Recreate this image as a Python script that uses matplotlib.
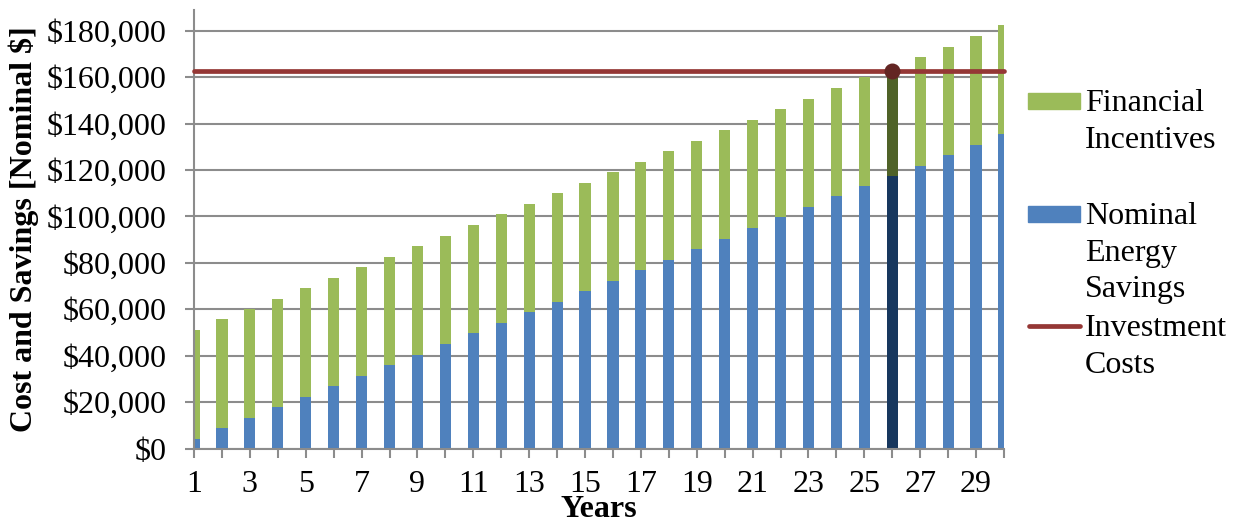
import matplotlib
matplotlib.use("Agg")
import matplotlib.pyplot as plt
from matplotlib.patches import Rectangle
from matplotlib.lines import Line2D
from matplotlib.ticker import FuncFormatter, FixedLocator

plt.rcParams['font.family'] = ['Liberation Serif', 'DejaVu Serif']

# data
years = list(range(1, 31))
energy_savings = [4300, 8990, 13300, 17800, 22300, 26900, 31400, 35900, 40400, 45000,
                  49600, 54200, 58700, 63150, 67700, 72300, 76900, 81400, 85900, 90400,
                  94950, 99600, 104000, 108700, 113200, 117300, 121900, 126400, 131000, 135600]
incentives = [46800, 46700, 46800, 46800, 46800, 46800, 46800, 46800, 46800, 46800,
              46800, 46800, 46800, 46800, 46800, 46800, 46800, 46800, 46800, 46800,
              46800, 46800, 46800, 46800, 46800, 46800, 46800, 46800, 46800, 46800]
investment_cost = 162700
payback_year = 26
x_tick_labels = [str(y) for y in range(1, 30, 2)]

GREEN = '#9BBB59'
BLUE = '#4F81BD'
DK_GREEN = '#4F6228'
DK_BLUE = '#17375E'
RED = '#953735'
DOT = '#632523'
GRID = '#8C8C8C'
FS = 23

W, H = 1239, 525
fig = plt.figure(figsize=(W / 100, H / 100), dpi=100)
ax = fig.add_axes([194 / W, (H - 448.5) / H, (1004 - 194) / W, (448.5 - 10) / H])

blue_cols = [DK_BLUE if y == payback_year else BLUE for y in years]
green_cols = [DK_GREEN if y == payback_year else GREEN for y in years]
ax.bar(years, energy_savings, width=0.4, color=blue_cols, zorder=2)
ax.bar(years, incentives, width=0.4, bottom=energy_savings, color=green_cols, zorder=2)

ax.plot([years[0], years[-1]], [investment_cost, investment_cost], color=RED, lw=3.4,
        solid_capstyle='round', zorder=3, clip_on=False)
ax.plot([payback_year], [investment_cost], 'o', color=DOT, markersize=10.5, zorder=4, clip_on=False)

ax.set_xlim(1, 30)
ax.set_ylim(0, 189000)
ax.set_yticks(range(0, 180001, 20000))
ax.yaxis.set_major_formatter(FuncFormatter(lambda v, p: f"${v:,.0f}"))
ax.xaxis.set_major_locator(FixedLocator(range(1, 30, 2)))
ax.set_xticklabels(x_tick_labels)
ax.xaxis.set_minor_locator(FixedLocator(years))
ax.grid(axis='y', color=GRID, lw=1.5, zorder=0)
ax.set_axisbelow(True)

for s in ['top', 'right']:
    ax.spines[s].set_visible(False)
for s in ['left', 'bottom']:
    ax.spines[s].set_color(GRID)
    ax.spines[s].set_linewidth(1.5)
ax.tick_params(axis='y', length=6.5, width=1.5, color=GRID, pad=13, labelsize=FS)
ax.tick_params(axis='x', which='both', length=6.5, width=1.5, color=GRID, pad=9, labelsize=FS)

ax.set_ylabel("Cost and Savings [Nominal $]", fontsize=FS, fontweight='bold', labelpad=6)
ax.set_xlabel("Years", fontsize=FS, fontweight='bold', va='baseline')
ax.xaxis.set_label_coords(0.5, (448.5 - 517) / (448.5 - 10))


# legend built by hand so handles sit on the first text line
def fx(x):
    return x / W


def fy(y):
    return 1 - y / H


legend_items = [
    ('patch', GREEN, "Financial\nIncentives", 101),
    ('patch', BLUE, "Nominal\nEnergy\nSavings", 214),
    ('line', RED, "Investment\nCosts", 326),
]
for kind, col, label, yc in legend_items:
    if kind == 'patch':
        fig.add_artist(Rectangle((fx(1028), fy(yc + 8)), fx(52), 16 / H,
                                 transform=fig.transFigure, color=col))
    else:
        fig.add_artist(Line2D([fx(1029), fx(1080)], [fy(yc), fy(yc)], transform=fig.transFigure,
                              color=col, lw=3.4, solid_capstyle='round'))
    fig.text(fx(1085), fy(yc - 12), label, fontsize=FS, va='top', ha='left', linespacing=1.35)

fig.savefig("out.png", dpi=100)
